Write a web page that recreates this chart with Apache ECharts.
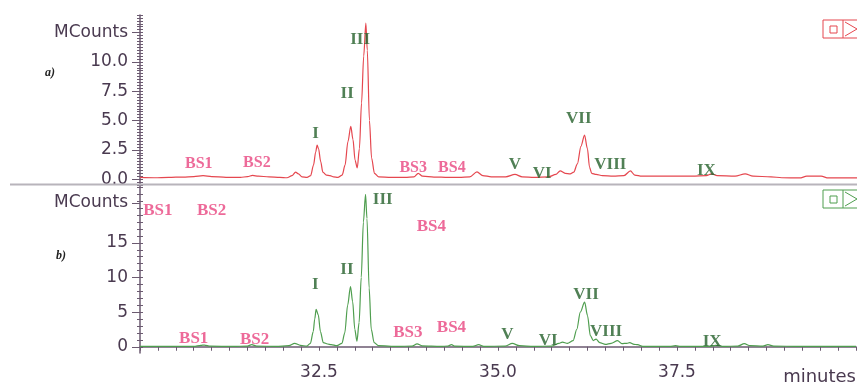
<!DOCTYPE html>
<html>
<head>
<meta charset="utf-8">
<script src="https://cdn.jsdelivr.net/npm/echarts@6/dist/echarts.min.js"></script>
<style>
  html, body { margin: 0; padding: 0; background: #ffffff; }
  #chart { width: 857px; height: 390px; }
</style>
</head>
<body>
<div id="chart"></div>
<script>
// Trace a) — retention time (minutes) and signal (MCounts)
const timeA = [30.00, 30.20, 30.40, 30.60, 30.75, 30.88, 31.00, 31.20, 31.40, 31.50, 31.57, 31.65, 31.80, 31.95,
  32.05, 32.12, 32.17, 32.21, 32.26, 32.33, 32.38, 32.42, 32.45, 32.47, 32.49, 32.52, 32.55, 32.60, 32.65, 32.70,
  32.76, 32.82, 32.86, 32.90, 32.94, 32.97, 33.00, 33.03, 33.06, 33.09, 33.12, 33.15, 33.17, 33.20, 33.23, 33.27,
  33.33, 33.50, 33.70, 33.82, 33.88, 33.94, 34.10, 34.30, 34.45, 34.60, 34.70, 34.78, 34.90, 35.10, 35.23, 35.33,
  35.50, 35.70, 35.80, 35.86, 35.93, 36.00, 36.05, 36.10, 36.15, 36.20, 36.24, 36.27, 36.30, 36.36, 36.45, 36.60,
  36.75, 36.84, 36.90, 37.00, 37.40, 37.70, 37.90, 37.97, 38.05, 38.30, 38.44, 38.55, 38.80, 38.95, 39.20, 39.30,
  39.50, 39.60, 40.00];
const countsA = [0.15, 0.12, 0.15, 0.18, 0.22, 0.30, 0.22, 0.15, 0.15, 0.22, 0.32, 0.25, 0.20, 0.15,
  0.12, 0.30, 0.60, 0.45, 0.20, 0.15, 0.30, 1.20, 2.30, 2.90, 2.60, 1.50, 0.60, 0.35, 0.30, 0.20,
  0.15, 0.35, 1.20, 3.20, 4.50, 3.40, 1.60, 0.95, 2.60, 6.50, 10.50, 13.30, 11.00, 5.00, 1.80, 0.50,
  0.20, 0.15, 0.15, 0.20, 0.50, 0.25, 0.18, 0.15, 0.15, 0.20, 0.62, 0.30, 0.20, 0.20, 0.40, 0.20,
  0.15, 0.20, 0.40, 0.70, 0.50, 0.45, 0.60, 1.30, 2.80, 3.76, 2.60, 1.00, 0.50, 0.40, 0.30, 0.25,
  0.30, 0.70, 0.35, 0.25, 0.25, 0.25, 0.30, 0.45, 0.30, 0.25, 0.45, 0.25, 0.20, 0.12, 0.10, 0.25,
  0.25, 0.10, 0.10];

// Trace b)
const timeB = [30.00, 30.40, 30.75, 30.85, 30.90, 30.98, 31.30, 31.50, 31.56, 31.63, 31.90, 32.08, 32.16, 32.24,
  32.33, 32.38, 32.42, 32.44, 32.46, 32.49, 32.52, 32.56, 32.62, 32.67, 32.75, 32.82, 32.86, 32.90, 32.94, 32.97,
  33.00, 33.03, 33.06, 33.09, 33.12, 33.15, 33.17, 33.20, 33.23, 33.27, 33.33, 33.60, 33.80, 33.87, 33.94, 34.20,
  34.30, 34.35, 34.40, 34.65, 34.73, 34.80, 35.10, 35.20, 35.30, 35.50, 35.75, 35.85, 35.90, 35.97, 36.05, 36.10,
  36.15, 36.21, 36.25, 36.29, 36.33, 36.37, 36.42, 36.50, 36.58, 36.67, 36.73, 36.80, 36.84, 36.90, 36.95, 37.02,
  37.40, 37.48, 37.55, 37.95, 38.04, 38.15, 38.35, 38.44, 38.52, 38.70, 38.77, 38.85, 39.20, 40.00];
const countsB = [0.05, 0.05, 0.05, 0.20, 0.25, 0.08, 0.05, 0.10, 0.30, 0.10, 0.05, 0.15, 0.50, 0.20,
  0.10, 0.50, 2.20, 4.00, 5.40, 4.60, 2.20, 0.60, 0.40, 0.30, 0.15, 0.50, 2.00, 6.00, 8.70, 6.50,
  2.50, 0.80, 3.50, 10.00, 18.00, 22.00, 18.50, 8.50, 2.50, 0.60, 0.15, 0.05, 0.10, 0.43, 0.12, 0.05,
  0.10, 0.30, 0.08, 0.05, 0.30, 0.05, 0.10, 0.48, 0.15, 0.05, 0.10, 0.50, 0.67, 0.50, 0.90, 2.50,
  5.00, 6.44, 4.50, 1.60, 0.90, 1.10, 0.60, 0.35, 0.50, 0.90, 0.45, 0.50, 0.60, 0.35, 0.30, 0.05,
  0.05, 0.15, 0.05, 0.05, 0.20, 0.05, 0.10, 0.45, 0.15, 0.10, 0.30, 0.10, 0.05, 0.05];

// Peak names (green) and background names (pink) with the time / level where each text sits
const peakNamesA = ['I', 'II', 'III', 'V', 'VI', 'VII', 'VIII', 'IX'];
const peakTimesA = [32.45, 32.89, 33.07, 35.23, 35.61, 36.12, 36.56, 37.90];
const peakLevelsA = [3.9, 7.3, 11.9, 1.27, 0.5, 5.2, 1.27, 0.76];
const bsNamesA = ['BS1', 'BS2', 'BS3', 'BS4'];
const bsTimesA = [30.82, 31.63, 33.81, 34.35];
const bsLevelsA = [1.3, 1.36, 1.0, 1.0];

const peakNamesB = ['I', 'II', 'III', 'V', 'VI', 'VII', 'VIII', 'IX'];
const peakTimesB = [32.45, 32.89, 33.39, 35.13, 35.70, 36.23, 36.51, 37.99];
const peakLevelsB = [8.9, 11.2, 21.3, 1.7, 0.9, 7.5, 2.2, 0.7];
const bsNamesB = ['BS1', 'BS2', 'BS4', 'BS1', 'BS2', 'BS3', 'BS4'];
const bsTimesB = [30.25, 31.00, 34.07, 30.75, 31.60, 33.74, 34.35];
const bsLevelsB = [19.7, 19.7, 17.3, 1.15, 1.0, 2.0, 2.7];

// Axis tick labels
const yLabelsA = [0, 2.5, 5, 7.5, 10, 12.5];
const yLabelsB = [0, 5, 10, 15, 20.75];
const xLabels = [32.5, 35, 37.5];

const AXIS = '#6b5a70';
const AXIS_TEXT = '#4a3a50';
const RED = '#e5474f';
const GREEN = '#4f9e4f';
const ROMAN = '#24602a';
const PINK = '#e8457f';

function zip3(names, ts, vs) { return names.map((n, i) => [ts[i], vs[i], n]); }
function pairs(ts, vs) { return ts.map((t, i) => [t, vs[i]]); }
function steps(from, to, step) {
  const out = [];
  for (let k = 0; from + k * step <= to + 1e-9; k++) out.push(+(from + k * step).toFixed(4));
  return out;
}

const minorA = steps(-0.5, 14, 0.25);
const minorB = steps(0, 23, 1);
const minorX = steps(30, 40, 0.25);

function labelSeries(data, xi, yi, color, size) {
  return {
    type: 'scatter', xAxisIndex: xi, yAxisIndex: yi, data: data,
    symbolSize: 1, itemStyle: { color: 'rgba(0,0,0,0)' }, silent: true, z: 5,
    label: {
      show: true, position: 'inside', formatter: p => p.data[2],
      color: color, fontFamily: '"Liberation Serif", "Times New Roman", serif',
      fontWeight: 'bold', fontSize: size
    }
  };
}

function minorTickAxis(gridIndex, min, max, values) {
  return {
    type: 'value', gridIndex: gridIndex, position: 'left', min: min, max: max, offset: -3,
    splitLine: { show: false }, axisLine: { show: false }, axisLabel: { show: false },
    axisTick: { show: true, customValues: values, length: 6, lineStyle: { color: AXIS, width: 1 } }
  };
}

const chart = echarts.init(document.getElementById('chart'), null, { renderer: 'canvas' });

chart.setOption({
  animation: false,
  backgroundColor: '#ffffff',
  grid: [
    { left: 140, right: 0, top: 15, height: 170 },
    { left: 140, right: 0, top: 186, height: 167 }
  ],
  xAxis: [
    { type: 'value', gridIndex: 0, min: 30, max: 40, show: false },
    {
      type: 'value', gridIndex: 1, min: 30, max: 40,
      splitLine: { show: false },
      axisLine: { show: true, lineStyle: { color: AXIS, width: 1.5 } },
      axisTick: { show: true, customValues: minorX, length: 4, lineStyle: { color: AXIS, width: 1 } },
      axisLabel: {
        customValues: xLabels, formatter: v => v.toFixed(1), margin: 11,
        color: AXIS_TEXT, fontSize: 17, fontFamily: '"DejaVu Sans", sans-serif'
      },
      name: 'minutes', nameLocation: 'end', nameGap: 0,
      nameTextStyle: {
        align: 'right', verticalAlign: 'top', padding: [22, 0, 0, 0],
        color: AXIS_TEXT, fontSize: 18, fontFamily: '"DejaVu Sans", sans-serif'
      }
    }
  ],
  yAxis: [
    {
      type: 'value', gridIndex: 0, position: 'left', min: -0.5, max: 14,
      splitLine: { show: false },
      axisLine: { show: true, lineStyle: { color: AXIS, width: 1.5 } },
      axisTick: { show: true, customValues: yLabelsA, length: 8, lineStyle: { color: AXIS, width: 1 } },
      axisLabel: {
        customValues: yLabelsA, margin: 12,
        formatter: v => (v === yLabelsA[yLabelsA.length - 1] ? 'MCounts' : v.toFixed(1)),
        color: AXIS_TEXT, fontSize: 17, fontFamily: '"DejaVu Sans", sans-serif'
      }
    },
    {
      type: 'value', gridIndex: 1, position: 'left', min: -0.9, max: 23.2,
      splitLine: { show: false },
      axisLine: { show: true, lineStyle: { color: AXIS, width: 1.5 } },
      axisTick: { show: true, customValues: yLabelsB, length: 8, lineStyle: { color: AXIS, width: 1 } },
      axisLabel: {
        customValues: yLabelsB, margin: 12,
        formatter: v => (v === yLabelsB[yLabelsB.length - 1] ? 'MCounts' : String(v)),
        color: AXIS_TEXT, fontSize: 17, fontFamily: '"DejaVu Sans", sans-serif'
      }
    },
    // short minor ticks straddling each vertical axis
    minorTickAxis(0, -0.5, 14, minorA),
    minorTickAxis(1, -0.9, 23.2, minorB)
  ],
  series: [
    {
      type: 'line', xAxisIndex: 0, yAxisIndex: 0, data: pairs(timeA, countsA),
      showSymbol: false, smooth: 0.3, smoothMonotone: 'x', silent: true,
      lineStyle: { color: RED, width: 1.2 }
    },
    {
      type: 'line', xAxisIndex: 1, yAxisIndex: 1, data: pairs(timeB, countsB),
      showSymbol: false, smooth: 0.3, smoothMonotone: 'x', silent: true,
      lineStyle: { color: GREEN, width: 1.2 }
    },
    labelSeries(zip3(peakNamesA, peakTimesA, peakLevelsA), 0, 0, ROMAN, 17),
    labelSeries(zip3(bsNamesA, bsTimesA, bsLevelsA), 0, 0, PINK, 16),
    labelSeries(zip3(peakNamesB, peakTimesB, peakLevelsB), 1, 1, ROMAN, 17),
    labelSeries(zip3(bsNamesB, bsTimesB, bsLevelsB), 1, 1, PINK, 17)
  ],
  graphic: [
    // separator between the two traces
    { type: 'line', shape: { x1: 10, y1: 184.5, x2: 857, y2: 184.5 }, style: { stroke: '#b8b4bb', lineWidth: 2 }, z: 1 },
    // panel tags
    { type: 'text', x: 50, y: 73, style: { text: 'a)', fill: '#222', font: 'italic bold 12px "Liberation Serif", serif', textAlign: 'center', textVerticalAlign: 'middle' } },
    { type: 'text', x: 61, y: 256, style: { text: 'b)', fill: '#222', font: 'italic bold 12px "Liberation Serif", serif', textAlign: 'center', textVerticalAlign: 'middle' } },
    // trace window buttons
    { type: 'group', x: 823, y: 20, children: [
      { type: 'rect', shape: { x: 0, y: 0, width: 40, height: 18 }, style: { fill: '#fff', stroke: RED, lineWidth: 1 } },
      { type: 'rect', shape: { x: 7, y: 6, width: 7, height: 7 }, style: { fill: 'none', stroke: RED, lineWidth: 1 } },
      { type: 'line', shape: { x1: 20, y1: 0, x2: 20, y2: 18 }, style: { stroke: RED, lineWidth: 1 } },
      { type: 'polyline', shape: { points: [[22, 2], [34, 9], [22, 16]] }, style: { fill: 'none', stroke: RED, lineWidth: 1 } }
    ] },
    { type: 'group', x: 823, y: 190, children: [
      { type: 'rect', shape: { x: 0, y: 0, width: 40, height: 18 }, style: { fill: '#fff', stroke: GREEN, lineWidth: 1 } },
      { type: 'rect', shape: { x: 7, y: 6, width: 7, height: 7 }, style: { fill: 'none', stroke: GREEN, lineWidth: 1 } },
      { type: 'line', shape: { x1: 20, y1: 0, x2: 20, y2: 18 }, style: { stroke: GREEN, lineWidth: 1 } },
      { type: 'polyline', shape: { points: [[22, 2], [34, 9], [22, 16]] }, style: { fill: 'none', stroke: GREEN, lineWidth: 1 } }
    ] }
  ]
});
</script>
</body>
</html>
